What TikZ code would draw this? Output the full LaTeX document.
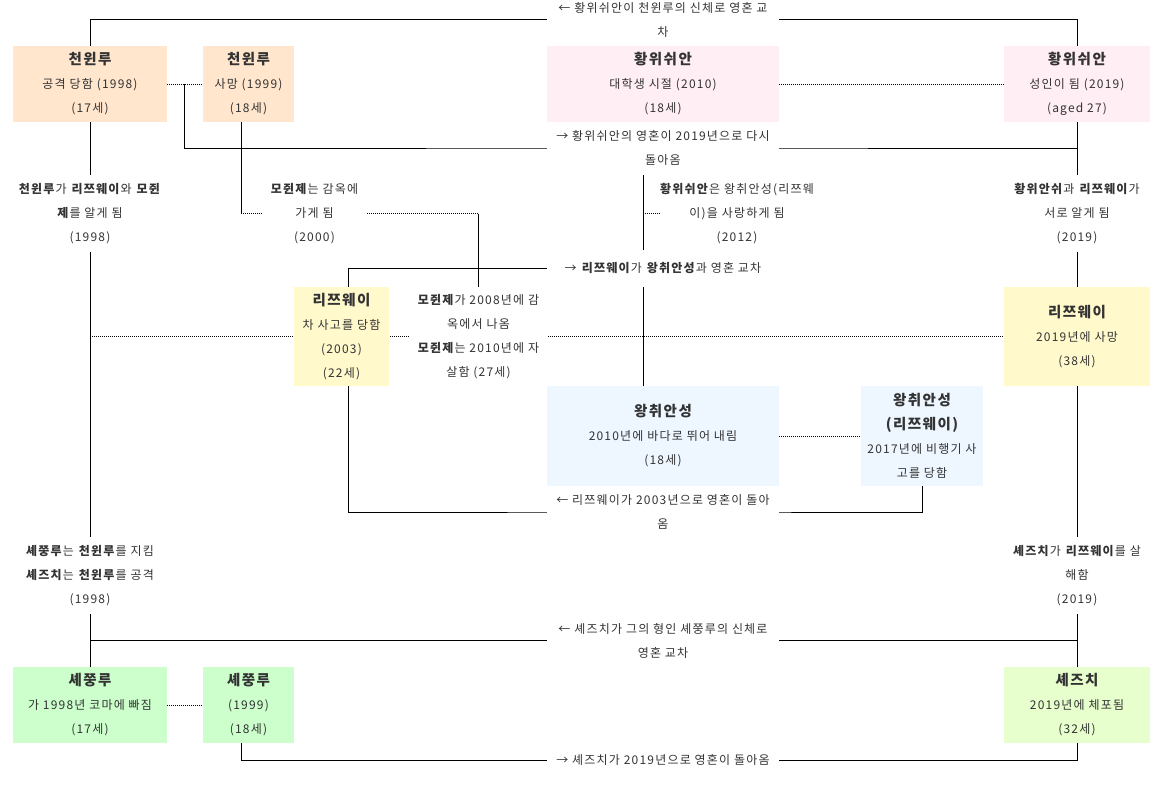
\documentclass[tikz,border=0pt]{standalone}
\usepackage{fontspec}
\setmainfont{Noto Sans CJK KR}[LetterSpace=10]
\usetikzlibrary{backgrounds}
\definecolor{txt}{HTML}{333333}
\definecolor{orfill}{HTML}{FFE6CC}
\definecolor{pkfill}{HTML}{FFEEF3}
\definecolor{yefill}{HTML}{FFF9CC}
\definecolor{blfill}{HTML}{EEF6FF}
\definecolor{grfill}{HTML}{CCFFCC}
\definecolor{lmfill}{HTML}{E6FFCC}
\newcommand\bd[1]{\textbf{#1}}
\newcommand\ttl[1]{{\bfseries\fontsize{14.5}{24}\selectfont #1}}
\begin{document}
\begin{tikzpicture}[x=1pt,y=-1pt,
  every node/.style={text=txt, font=\fontsize{12}{24}\selectfont, align=center, inner sep=0pt},
  box/.style={fill=#1},
  lbl/.style={fill=white},
  conn/.style={draw=black, line width=0.9pt},
  dots/.style={draw=black, line width=0.9pt, dash pattern=on 1pt off 1pt}]
\useasboundingbox (0,0) rectangle (1165,785);

% boxes
\node[box=orfill, minimum width=154, minimum height=76] (A) at (90,84) {\ttl{천윈루}\\공격 당함 (1998)\\(17세)};
\node[box=orfill, minimum width=91, minimum height=76] (B) at (248.5,84) {\ttl{천윈루}\\사망 (1999)\\(18세)};
\node[box=pkfill, minimum width=232, minimum height=76] (C) at (663,84) {\ttl{황위쉬안}\\대학생 시절 (2010)\\(18세)};
\node[box=pkfill, minimum width=146, minimum height=76] (D) at (1077,84) {\ttl{황위쉬안}\\성인이 됨 (2019)\\(aged 27)};
\node[box=yefill, minimum width=95, minimum height=99] (E) at (341.5,336.5) {\ttl{리쯔웨이}\\차 사고를 당함\\(2003)\\(22세)};
\node[box=yefill, minimum width=146, minimum height=99] (F) at (1077,336.5) {\ttl{리쯔웨이}\\2019년에 사망\\(38세)};
\node[box=blfill, minimum width=232, minimum height=100] (G) at (663,436) {\ttl{왕취안성}\\2010년에 바다로 뛰어 내림\\(18세)};
\node[box=blfill, minimum width=122, minimum height=100] (H) at (922,436) {\ttl{왕취안성}\\\ttl{(리쯔웨이)}\\2017년에 비행기 사\\고를 당함};
\node[box=grfill, minimum width=154, minimum height=76] (I) at (90,705) {\ttl{셰쭝루}\\가 1998년 코마에 빠짐\\(17세)};
\node[box=grfill, minimum width=91, minimum height=76] (J) at (248.5,705) {\ttl{셰쭝루}\\(1999)\\(18세)};
\node[box=lmfill, minimum width=146, minimum height=76] (K) at (1077,705) {\ttl{셰즈치}\\2019년에 체포됨\\(32세)};

% labels
\node[lbl, minimum width=232, minimum height=40] (L1) at (663,19.5) {← 황위쉬안이 천윈루의 신체로 영혼 교\\차};
\node[lbl, minimum width=232, minimum height=53] (L2) at (663,148) {→ 황위쉬안의 영혼이 2019년으로 다시\\돌아옴};
\node[lbl, minimum width=232, minimum height=37] (L3) at (663,268.5) {→ \bd{리쯔웨이}가 \bd{왕취안성}과 영혼 교차};
\node[lbl, minimum width=232, minimum height=50] (L4) at (663,512) {← 리쯔웨이가 2003년으로 영혼이 돌아\\옴};
\node[lbl, minimum width=232, minimum height=50] (L5) at (663,640.5) {← 셰즈치가 그의 형인 셰쭝루의 신체로\\영혼 교차};
\node[lbl, minimum width=232, minimum height=25] (L6) at (663,760) {→ 셰즈치가 2019년으로 영혼이 돌아옴};
\node[lbl, minimum width=154, minimum height=77] (LL1) at (90,213.5) {\bd{천윈루}가 \bd{리쯔웨이}와 \bd{모쥔}\\\bd{제}를 알게 됨\\(1998)};
\node[lbl, minimum width=154, minimum height=77] (LL2) at (90,575.5) {\bd{셰쭝루}는 \bd{천윈루}를 지킴\\\bd{셰즈치}는 \bd{천윈루}를 공격\\(1998)};
\node[lbl, minimum width=146, minimum height=77] (RL1) at (1077,213.5) {\bd{황위안쉬}과 \bd{리쯔웨이}가\\서로 알게 됨\\(2019)};
\node[lbl, minimum width=146, minimum height=77] (RL2) at (1077,575.5) {\bd{셰즈치}가 \bd{리쯔웨이}를 살\\해함\\(2019)};
\node[lbl, minimum width=105, minimum height=70] (M2000) at (314.5,213.5) {\bd{모쥔제}는 감옥에\\가게 됨\\(2000)};
\node[lbl, minimum width=137, minimum height=100] (M2008) at (478.5,337) {\bd{모쥔제}가 2008년에 감\\옥에서 나옴\\\bd{모쥔제}는 2010년에 자\\살함 (27세)};
\node[lbl, minimum width=150, minimum height=77] (M2012) at (737,213.5) {\bd{황위쉬안}은 왕취안성(리쯔웨\\이)을 사랑하게 됨\\(2012)};

\coordinate (ab) at (184,84);
\coordinate (b2) at (241,213.5);
\coordinate (m1) at (478.5,213.5);
\coordinate (c1) at (643,213.5);
\coordinate (lv) at (90,336.5);

\begin{pgfonlayer}{background}
  % top crossing
  \draw[conn] (A.north) |- (L1.center) -| (D.north);
  \draw[dots] (A.east) -- (B.west);
  \draw[conn] (ab) |- (L2.center) -| (D.south);
  \draw[dots] (C.east) -- (D.west);
  % verticals
  \draw[conn] (A.south) -- (I.north);
  \draw[conn] (D.south) -- (F.north);
  \draw[conn] (F.south) -- (K.north);
  % 모쥔제
  \draw[conn] ([xshift=-7.5pt]B.south) -- (b2);
  \draw[dots] (b2) -- (M2000.west);
  \draw[dots] (M2000.east) -- (m1);
  \draw[conn] (m1) -- (M2008.north);
  % 황위쉬안 -> 왕취안성
  \draw[conn] ([xshift=-20pt]C.south) -- ([xshift=-20pt]G.north);
  \draw[dots] (c1) -- (M2012.west);
  % 리쯔웨이
  \draw[conn] ([xshift=6.5pt]E.north) |- (L3.center);
  \draw[dots] (lv) -- (F.west);
  \draw[dots] (G.east) -- (H.west);
  \draw[conn] ([xshift=6.5pt]E.south) |- (L4.center) -| (H.south);
  % bottom
  \draw[conn] (I.north |- L5.center) -- (K.north |- L5.center);
  \draw[dots] (I.east) -- (J.west);
  \draw[conn] ([xshift=-7.5pt]J.south) |- (L6.center) -| (K.south);
\end{pgfonlayer}
\end{tikzpicture}
\end{document}
